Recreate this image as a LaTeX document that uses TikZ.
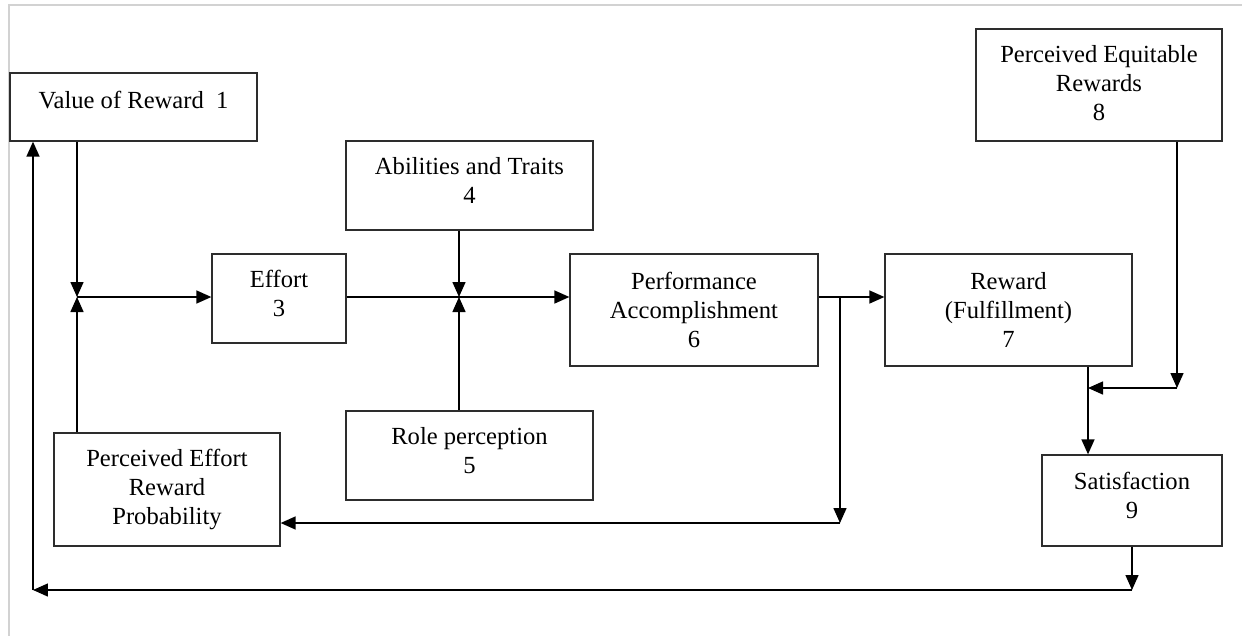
\documentclass[tikz,border=0pt]{standalone}
\usepackage{fontspec}
\setmainfont{Liberation Serif}
\usepackage{tikz}
\usetikzlibrary{calc,arrows.meta,positioning}
\definecolor{frameGray}{RGB}{210,210,210}
\definecolor{boxLine}{RGB}{45,45,45}
% extra depth on the last line, lifts the text inside a box
\newcommand{\lowpad}[1]{\rule[-#1]{0pt}{0pt}}

\begin{document}
\begin{tikzpicture}[x=0.02cm,y=-0.02cm,
    box/.style={draw=boxLine, line width=0.75pt, align=center, inner sep=0pt,
        font=\fontsize{14}{16.5}\selectfont},
    arr/.style={line width=0.85pt, -{Triangle[length=0.3cm,width=0.26cm]}}]
    \useasboundingbox (0,0) rectangle (1242,636);
    % page frame
    \draw[frameGray, line width=0.6pt] (9,636) -- (9,5) -- (1242,5);

    % boxes
    \node[box, minimum width=4.94cm, minimum height=1.36cm] (value) at (133.5,107) {Value of Reward\enspace 1\lowpad{8pt}};
    \node[box, minimum width=2.68cm, minimum height=1.78cm] (effort) at (279,298.5) {Effort\\3\lowpad{5.7pt}};
    \node[box, minimum width=4.94cm, minimum height=1.78cm] (abil) at (469.5,185.5) {Abilities and Traits\\4\lowpad{5.7pt}};
    \node[box, minimum width=4.96cm, minimum height=2.24cm] (perf) at (694,310) {Performance\\Accomplishment\\6};
    \node[box, minimum width=4.94cm, minimum height=2.24cm] (reward) at (1008.5,310) {Reward\\(Fulfillment)\\7};
    \node[box, minimum width=4.92cm, minimum height=2.24cm] (equit) at (1099,85) {Perceived Equitable\\Rewards\\8\lowpad{2pt}};
    \node[box, minimum width=4.94cm, minimum height=1.78cm] (role) at (469.5,455.5) {Role perception\\5\lowpad{5.7pt}};
    \node[box, minimum width=4.52cm, minimum height=2.26cm] (prob) at (167,489.5) {Perceived Effort\\Reward\\Probability};
    \node[box, minimum width=3.6cm, minimum height=1.82cm] (satis) at (1132,500.5) {Satisfaction\\9\lowpad{5.7pt}};

    % junction points
    \coordinate (jEff) at (77,297);
    \coordinate (jPerf) at (459,297);
    \coordinate (jSplit) at (840,297);
    \coordinate (jBack) at (840,523);
    \coordinate (jEq) at (1177,388);
    \coordinate (jSat) at (1088,388);
    \coordinate (jLow) at (1132,590);
    \coordinate (jCorner) at (33,590);

    % into effort
    \draw[arr] (jEff |- value.south) -- (jEff);
    \draw[arr] (jEff |- prob.north) -- (jEff);
    \draw[arr] (jEff) -- (jEff -| effort.west);

    % into performance
    \draw[arr] (effort.east |- jPerf) -- (jPerf -| perf.west);
    \draw[arr] (jPerf |- abil.south) -- (jPerf);
    \draw[arr] (jPerf |- role.north) -- (jPerf);

    % performance to reward, feedback to probability
    \draw[arr] (jPerf -| perf.east) -- (jPerf -| reward.west);
    \draw[arr] (jSplit) -- (jBack);
    \draw[arr] (jBack) -- (jBack -| prob.east);

    % equity and satisfaction
    \draw[arr] (jEq |- equit.south) -- (jEq);
    \draw[arr] (jEq) -- (jSat);
    \draw[arr] (jSat |- reward.south) -- (jSat |- satis.north);

    % feedback to value of reward
    \draw[arr] (satis.south) -- (jLow);
    \draw[arr] (jLow) -- (jCorner);
    \draw[arr] (jCorner) -- (jCorner |- value.south);
\end{tikzpicture}
\end{document}
